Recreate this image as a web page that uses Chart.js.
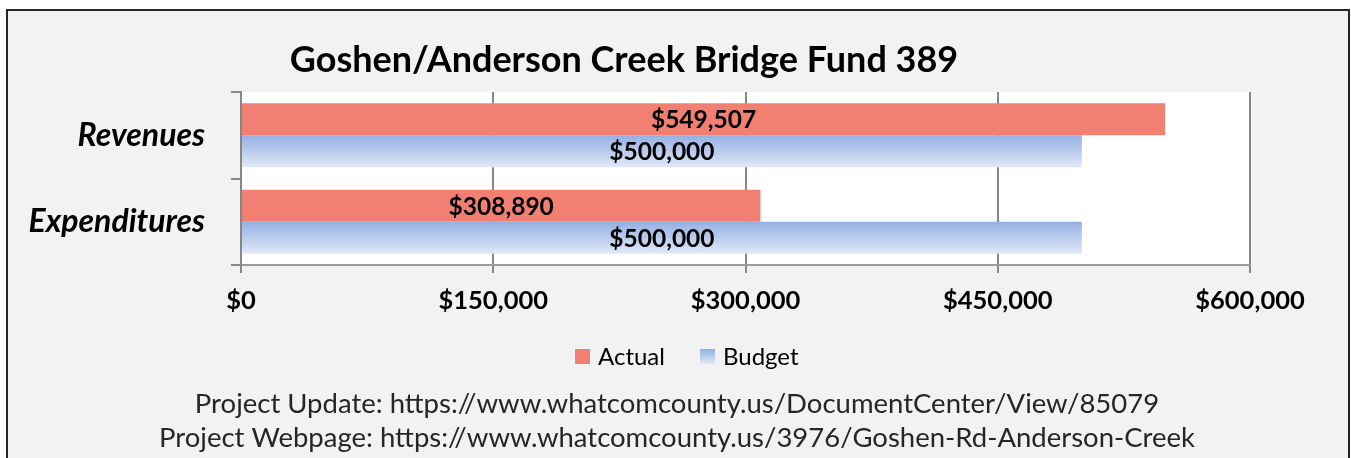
<!DOCTYPE html>
<html>
<head>
<meta charset="utf-8">
<script src="https://cdn.jsdelivr.net/npm/chart.js@4.4.1/dist/chart.umd.min.js"></script>
<style>
  html, body { margin: 0; padding: 0; background: #ffffff; }
  #wrap { width: 1351px; height: 458px; }
</style>
</head>
<body>
<div id="wrap"><canvas id="chart" width="1351" height="458"></canvas></div>
<script>
// Fund 389 figures
const categories = ['Revenues', 'Expenditures'];
const actualValues = [549507, 308890];
const budgetValues = [500000, 500000];
const seriesNames = ['Actual', 'Budget'];
const xTicks = [0, 150000, 300000, 450000, 600000];

const titleText = 'Goshen/Anderson Creek Bridge Fund 389';
const footerLines = [
  'Project Update: https://www.whatcomcounty.us/DocumentCenter/View/85079',
  'Project Webpage: https://www.whatcomcounty.us/3976/Goshen-Rd-Anderson-Creek'
];

const FONT = 'Lato, "Open Sans", sans-serif';
const money = v => '$' + Number(v).toLocaleString('en-US');
const ACTUAL_COLOR = '#f28072';
const BUDGET_TOP = '#94b0e2';
const BUDGET_BOTTOM = '#e0e8f6';

const CAT_PCT = 0.74;

function vGradient(ctx, top, bottom) {
  const g = ctx.createLinearGradient(0, top, 0, bottom);
  g.addColorStop(0, BUDGET_TOP);
  g.addColorStop(1, BUDGET_BOTTOM);
  return g;
}

// per-bar vertical gradient on the budget series, set once bar geometry is known
const budgetGradientPlugin = {
  id: 'budgetGradient',
  beforeDatasetsDraw(chart) {
    const meta = chart.getDatasetMeta(1);
    meta.data.forEach(bar => {
      const p = bar.getProps(['y', 'height'], true);
      if (!isFinite(p.y) || !isFinite(p.height)) return;
      bar.options.backgroundColor = vGradient(chart.ctx, p.y - p.height / 2, p.y + p.height / 2);
    });
  }
};

const framePlugin = {
  id: 'frame',
  beforeDraw(chart) {
    const { ctx, chartArea: a, width, height } = chart;
    ctx.save();
    ctx.fillStyle = '#ffffff';
    ctx.fillRect(0, 0, width, height);
    ctx.fillStyle = '#f2f2f2';
    ctx.fillRect(8, 11, 1340, height - 11);
    ctx.strokeStyle = '#262626';
    ctx.lineWidth = 2;
    ctx.strokeRect(7, 10, 1342, height + 10);
    ctx.fillStyle = '#ffffff';
    ctx.fillRect(a.left, a.top, a.right - a.left, a.bottom - a.top);
    ctx.restore();
  }
};

const textPlugin = {
  id: 'texts',
  afterDraw(chart) {
    const { ctx } = chart;
    ctx.save();
    ctx.fillStyle = '#000000';
    ctx.textAlign = 'center';
    ctx.textBaseline = 'middle';
    ctx.font = 'bold 36px ' + FONT;
    ctx.fillText(titleText, 624, 60);

    // legend
    ctx.font = '24px ' + FONT;
    ctx.textAlign = 'left';
    const swatchX = [575, 700];
    swatchX.forEach((x, i) => {
      ctx.fillStyle = i === 0 ? ACTUAL_COLOR : vGradient(ctx, 349, 364);
      ctx.fillRect(x, 349, 15, 15);
      ctx.fillStyle = '#000000';
      ctx.fillText(seriesNames[i], x + 23, 357);
    });

    // footer
    ctx.textAlign = 'center';
    ctx.fillStyle = '#262626';
    ctx.font = '27.5px ' + FONT;
    footerLines.forEach((line, i) => ctx.fillText(line, 677, 404 + i * 34));
    ctx.restore();
  }
};

const barLabelPlugin = {
  id: 'barLabels',
  afterDatasetsDraw(chart) {
    const { ctx } = chart;
    ctx.save();
    ctx.font = 'bold 24.5px ' + FONT;
    ctx.fillStyle = '#000000';
    ctx.textAlign = 'center';
    ctx.textBaseline = 'middle';
    chart.data.datasets.forEach((ds, di) => {
      chart.getDatasetMeta(di).data.forEach((bar, i) => {
        const p = bar.getProps(['x', 'y', 'base'], true);
        ctx.fillText(money(ds.data[i]), (p.x + p.base) / 2, p.y + 1);
      });
    });
    ctx.restore();
  }
};

new Chart(document.getElementById('chart'), {
  type: 'bar',
  data: {
    labels: categories,
    datasets: [
      { label: seriesNames[0], data: actualValues, backgroundColor: ACTUAL_COLOR,
        categoryPercentage: CAT_PCT, barPercentage: 1.0 },
      { label: seriesNames[1], data: budgetValues, backgroundColor: () => BUDGET_TOP,
        categoryPercentage: CAT_PCT, barPercentage: 1.0 }
    ]
  },
  options: {
    indexAxis: 'y',
    responsive: false,
    animation: false,
    devicePixelRatio: 1,
    layout: { padding: { left: 0, right: 101, top: 92, bottom: 0 } },
    plugins: {
      legend: { display: false },
      title: { display: false },
      tooltip: { enabled: false }
    },
    scales: {
      x: {
        min: 0, max: 600000,
        afterBuildTicks(scale) { scale.ticks = xTicks.map(v => ({ value: v })); },
        afterFit(scale) { scale.height = 458 - 92 - 173; },
        ticks: {
          callback: v => money(v),
          font: { family: FONT, size: 25.5, weight: 'bold' },
          color: '#000000',
          padding: 12,
          maxRotation: 0
        },
        grid: { color: '#878787', lineWidth: 2, tickLength: 8, drawOnChartArea: true },
        border: { display: true, color: '#9a9a9a', width: 2 }
      },
      y: {
        afterFit(scale) { scale.width = 241; },
        ticks: {
          font: { family: FONT, size: 32, weight: 'bold', style: 'italic' },
          color: '#000000',
          padding: 26
        },
        grid: { offset: true, drawOnChartArea: false, color: '#878787', lineWidth: 2, tickLength: 10 },
        border: { display: true, color: '#878787', width: 2 }
      }
    }
  },
  plugins: [framePlugin, budgetGradientPlugin, textPlugin, barLabelPlugin]
});
</script>
</body>
</html>
